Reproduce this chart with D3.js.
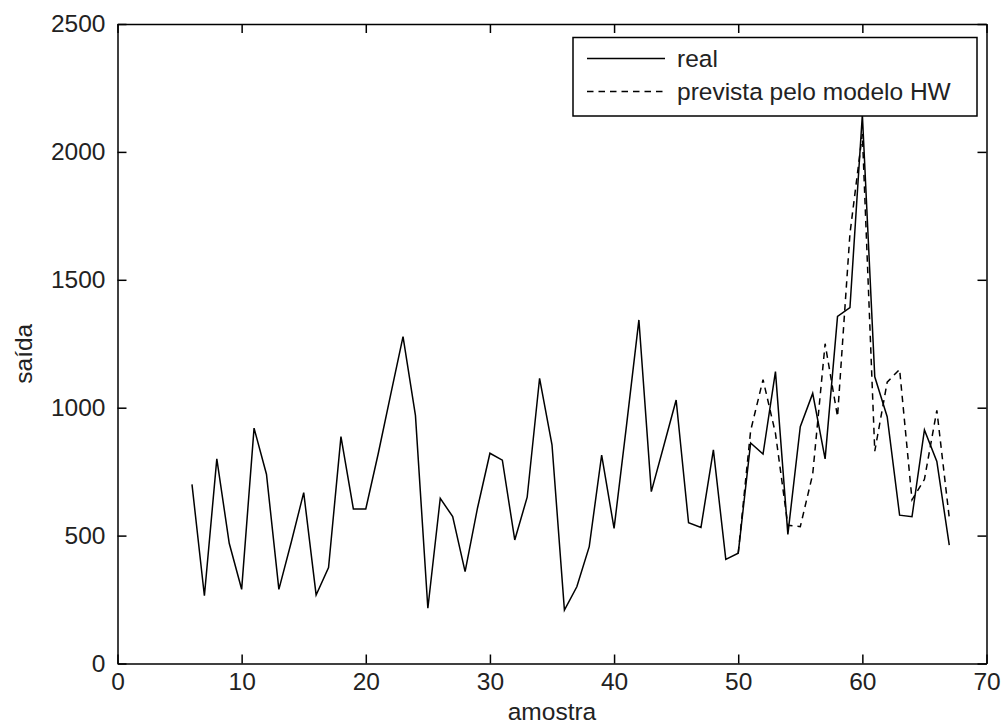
<!DOCTYPE html>
<html>
<head>
<meta charset="utf-8">
<script src="https://cdn.jsdelivr.net/npm/d3@7"></script>
<style>
  body { margin: 0; background: #fff; }
  svg { display: block; }
  text { font-family: "Liberation Sans", Arial, sans-serif; }
</style>
</head>
<body>
<svg id="chart" width="1002" height="727"></svg>
<script>
// ---- data ----
const realX = [6,7,8,9,10,11,12,13,14,15,16,17,18,19,20,21,22,23,24,25,26,27,28,29,30,31,32,33,34,35,36,37,38,39,40,41,42,43,44,45,46,47,48,49,50,51,52,53,54,55,56,57,58,59,60,61,62,63,64,65,66,67];
const realY = [700,265,800,470,290,920,740,290,475,668,268,375,887,604,604,820,1050,1278,970,216,646,574,359,608,822,795,483,650,1115,855,209,300,457,815,528,930,1343,672,850,1030,550,532,835,407,431,862,819,1141,505,926,1056,800,1357,1391,2145,1121,965,580,574,913,790,463];
const predX = [50,51,52,53,54,55,56,57,58,59,60,61,62,63,64,65,66,67];
const predY = [431,910,1110,900,540,535,740,1250,965,1680,2070,830,1100,1150,640,720,990,570];
const xTicks = [0,10,20,30,40,50,60,70];
const yTicks = [0,500,1000,1500,2000,2500];
const legendLabels = ["real", "prevista pelo modelo HW"];
const xLabel = "amostra";
const yLabel = "saída";

// ---- layout ----
const mLeft = 117.5, mRight = 986.5, mTop = 24, mBottom = 663.5;
const fontSize = 24.5;

const svg = d3.select("#chart");
svg.append("rect").attr("width",1002).attr("height",727).attr("fill","#fff");

const x = d3.scaleLinear().domain([0,70]).range([mLeft,mRight]);
const y = d3.scaleLinear().domain([0,2500]).range([mBottom,mTop]);

function styleAxis(g){
  g.selectAll("path.domain").attr("stroke","#000").attr("stroke-width",1.5);
  g.selectAll(".tick line").attr("stroke","#000").attr("stroke-width",1.5);
  g.selectAll(".tick text").attr("fill","#222").attr("font-size",fontSize)
    .attr("font-family",'"Liberation Sans", Arial, sans-serif');
}
svg.append("g").attr("transform",`translate(0,${mBottom})`)
  .call(d3.axisBottom(x).tickValues(xTicks).tickFormat(d3.format("d")).tickSize(-9).tickSizeOuter(0).tickPadding(9))
  .call(styleAxis);
svg.append("g").attr("transform",`translate(0,${mTop})`)
  .call(d3.axisTop(x).tickValues(xTicks).tickFormat("").tickSize(-9).tickSizeOuter(0))
  .call(styleAxis);
svg.append("g").attr("transform",`translate(${mLeft},0)`)
  .call(d3.axisLeft(y).tickValues(yTicks).tickFormat(d3.format("d")).tickSize(-9).tickSizeOuter(0).tickPadding(12))
  .call(styleAxis);
svg.append("g").attr("transform",`translate(${mRight},0)`)
  .call(d3.axisRight(y).tickValues(yTicks).tickFormat("").tickSize(-9).tickSizeOuter(0))
  .call(styleAxis);

// lines
const line = d3.line().x(d => x(d[0])).y(d => y(d[1]));
svg.append("path")
  .datum(realX.map((v,i)=>[v,realY[i]]))
  .attr("d",line).attr("fill","none").attr("stroke","#000").attr("stroke-width",1.5);
svg.append("path")
  .datum(predX.map((v,i)=>[v,predY[i]]))
  .attr("d",line).attr("fill","none").attr("stroke","#000").attr("stroke-width",1.5)
  .attr("stroke-dasharray","6.5,5");

// axis labels
svg.append("text").attr("x",(mLeft+mRight)/2).attr("y",720).attr("text-anchor","middle")
  .attr("font-size",fontSize).attr("fill","#222").text(xLabel);
svg.append("text").attr("transform",`translate(32,${(mTop+mBottom)/2 + 10}) rotate(-90)`)
  .attr("text-anchor","middle").attr("font-size",fontSize).attr("fill","#222").text(yLabel);

// legend
const lg = svg.append("g");
lg.append("rect").attr("x",573).attr("y",37.5).attr("width",404).attr("height",78.5)
  .attr("fill","#fff").attr("stroke","#000").attr("stroke-width",1.5);
const rows = [{y:58.5, dash:null},{y:91.5, dash:"6.5,5"}];
rows.forEach((r,i)=>{
  lg.append("line").attr("x1",587).attr("x2",665).attr("y1",r.y).attr("y2",r.y)
    .attr("stroke","#000").attr("stroke-width",1.5).attr("stroke-dasharray",r.dash);
  lg.append("text").attr("x",677).attr("y",r.y).attr("dy","0.35em")
    .attr("font-size",fontSize).attr("fill","#222").text(legendLabels[i]);
});
</script>
</body>
</html>
